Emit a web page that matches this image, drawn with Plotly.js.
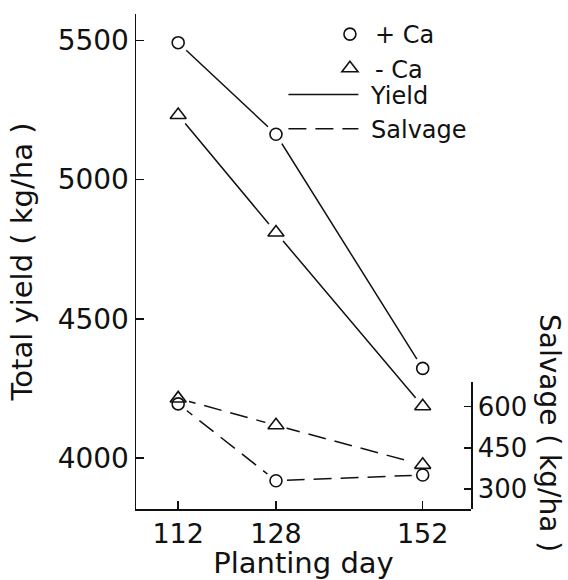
<!DOCTYPE html>
<html>
<head>
<meta charset="utf-8">
<script src="https://cdn.plot.ly/plotly-3.0.1.min.js"></script>
<style>html,body{margin:0;padding:0;background:#fff;}#chart{width:568px;height:580px;}</style>
</head>
<body>
<div id="chart"></div>
<script>
// Data
var plantingDays = [112, 128, 152];
var yieldPlusCa = [5492, 5163, 4322];
var yieldMinusCa = [5232, 4810, 4186];
var salvagePlusCa = [610, 330, 351];
var salvageMinusCa = [630, 532, 388];
var leftTicks = [4000, 4500, 5000, 5500];
var rightTicks = [300, 450, 600];

var FONT = 'DejaVu Sans';
var BLACK = '#111';
var dashPat = '18px,9px';

function lineTrace(y, axis, dash) {
  return {x: plantingDays, y: y, yaxis: axis, mode: 'lines', showlegend: false, hoverinfo: 'skip',
          line: {color: BLACK, width: 1.5, dash: dash}, cliponaxis: false};
}
function haloTrace(y, axis) {
  return {x: plantingDays, y: y, yaxis: axis, mode: 'markers', showlegend: false, hoverinfo: 'skip',
          marker: {symbol: 'circle', size: 22, color: '#fff', line: {width: 0}}, cliponaxis: false};
}
function markTrace(y, axis, sym, size, name) {
  return {x: plantingDays, y: y, yaxis: axis, mode: 'markers', showlegend: false, name: name,
          marker: {symbol: sym, size: size, color: BLACK, line: {color: BLACK, width: 1.6}}, cliponaxis: false};
}

var traces = [
  lineTrace(yieldPlusCa, 'y', 'solid'),
  lineTrace(yieldMinusCa, 'y', 'solid'),
  lineTrace(salvagePlusCa, 'y2', dashPat),
  lineTrace(salvageMinusCa, 'y2', dashPat),
  haloTrace(yieldPlusCa, 'y'),
  haloTrace(yieldMinusCa, 'y'),
  haloTrace(salvagePlusCa, 'y2'),
  haloTrace(salvageMinusCa, 'y2'),
  markTrace(yieldPlusCa, 'y', 'circle-open', 12, 'Yield +Ca'),
  markTrace(yieldMinusCa, 'y', 'triangle-up-open', 14, 'Yield -Ca'),
  markTrace(salvagePlusCa, 'y2', 'circle-open', 12, 'Salvage +Ca'),
  markTrace(salvageMinusCa, 'y2', 'triangle-up-open', 14, 'Salvage -Ca'),
  // legend entries
  {x: [null], y: [null], mode: 'markers', name: '+ Ca', legend: 'legend2',
   marker: {symbol: 'circle-open', size: 12, color: BLACK, line: {color: BLACK, width: 1.6}}},
  {x: [null], y: [null], mode: 'markers', name: '- Ca', legend: 'legend2',
   marker: {symbol: 'triangle-up-open', size: 14, color: BLACK, line: {color: BLACK, width: 1.6}}},
  {x: [null], y: [null], mode: 'lines', name: '\u00a0Yield', legend: 'legend', line: {color: BLACK, width: 1.5}},
  {x: [null], y: [null], mode: 'lines', name: '\u00a0Salvage', legend: 'legend', line: {color: BLACK, width: 1.5, dash: dashPat}}
];

var layout = {
  width: 568, height: 580,
  margin: {l: 136, r: 97, t: 14, b: 71},
  paper_bgcolor: '#fff', plot_bgcolor: 'rgba(0,0,0,0)',
  font: {family: FONT, color: BLACK, size: 25},
  showlegend: true,
  legend: {x: 0.44, xanchor: 'left', y: 0.882, yanchor: 'top', bgcolor: 'rgba(0,0,0,0)',
           font: {family: FONT, size: 24, color: BLACK}, itemwidth: 70, tracegroupgap: 0},
  legend2: {x: 0.564, xanchor: 'left', y: 1.004, yanchor: 'top', bgcolor: 'rgba(0,0,0,0)',
           font: {family: FONT, size: 24, color: BLACK}, itemwidth: 40, tracegroupgap: 0},
  xaxis: {
    range: [105.1, 159.9], tickmode: 'array', tickvals: plantingDays, ticktext: plantingDays.map(String),
    ticks: 'inside', ticklen: 8, tickwidth: 1.5, tickcolor: BLACK,
    showline: true, linecolor: BLACK, linewidth: 1.5, showgrid: false, zeroline: false,
    tickfont: {family: FONT, size: 27, color: BLACK},
    title: {text: 'Planting day', font: {family: FONT, size: 29, color: BLACK}, standoff: 13},
    anchor: 'y'
  },
  yaxis: {
    range: [3817, 5595], tickmode: 'array', tickvals: leftTicks, ticktext: leftTicks.map(String),
    ticks: 'inside', ticklen: 8, tickwidth: 1.5, tickcolor: BLACK,
    showline: true, linecolor: BLACK, linewidth: 1.5, showgrid: false, zeroline: false,
    tickfont: {family: FONT, size: 28, color: BLACK},
    title: {text: 'Total yield ( kg/ha )', font: {family: FONT, size: 29, color: BLACK}, standoff: 16},
    domain: [0, 1]
  },
  yaxis2: {
    range: [227, 691], domain: [0, 0.2572], anchor: 'x', side: 'right',
    tickmode: 'array', tickvals: rightTicks, ticktext: rightTicks.map(String),
    ticks: 'inside', ticklen: 7, tickwidth: 1.5, tickcolor: BLACK,
    showline: true, linecolor: BLACK, linewidth: 1.5, showgrid: false, zeroline: false,
    tickfont: {family: FONT, size: 26, color: BLACK}
  },
  annotations: [
    {text: 'Salvage ( kg/ha )', xref: 'paper', yref: 'paper', x: 1.236, y: 0.1535,
     xanchor: 'center', yanchor: 'middle', textangle: 90, showarrow: false,
     font: {family: FONT, size: 28, color: BLACK}}
  ]
};

Plotly.newPlot('chart', traces, layout, {staticPlot: true, displayModeBar: false});
</script>
</body>
</html>
